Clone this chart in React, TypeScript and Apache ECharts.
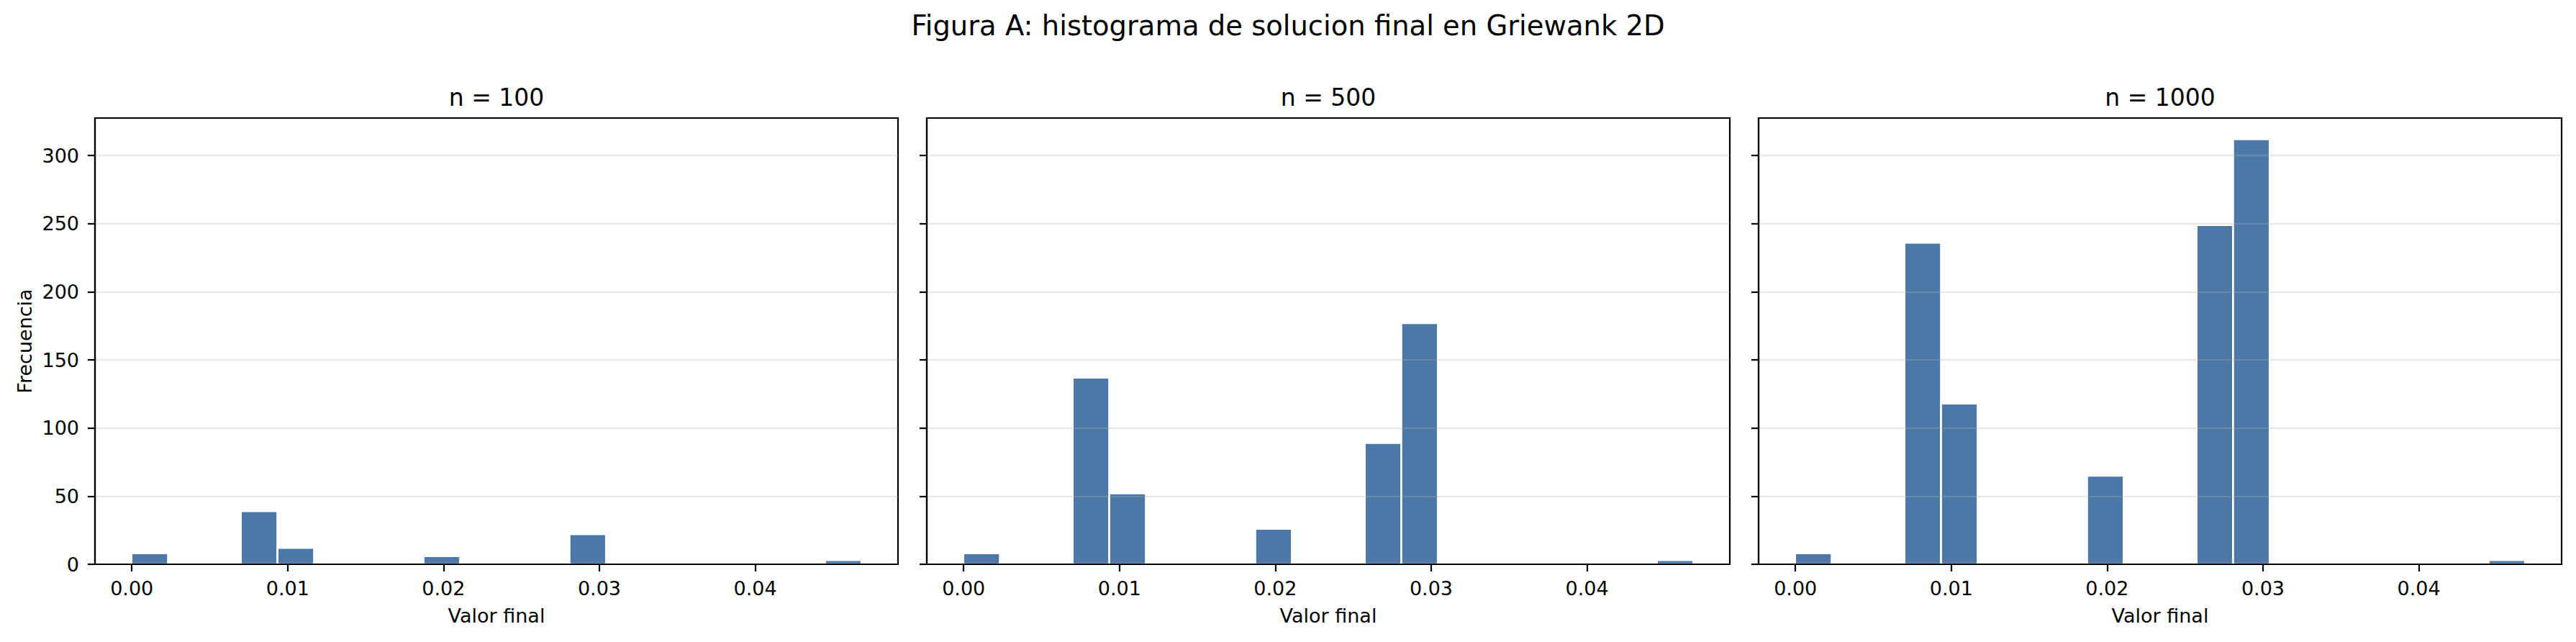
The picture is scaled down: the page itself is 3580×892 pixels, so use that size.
import React, { useEffect, useRef } from "react";
import * as echarts from "echarts";

const MAIN_TITLE = "Figura A: histograma de solucion final en Griewank 2D";
const PANEL_TITLES = ["n = 100", "n = 500", "n = 1000"];
const X_LABEL = "Valor final";
const Y_LABEL = "Frecuencia";

// left edges of the non-empty histogram bins (20 bins over the data range)
const BIN_LEFT = [-0.00002, 0.006996, 0.009348, 0.018716, 0.025742, 0.028084, 0.044478];
const BIN_WIDTH = 0.002342;

const COUNTS_100 = [8, 39, 12, 6, 1, 22, 3];
const COUNTS_500 = [8, 137, 52, 26, 89, 177, 3];
const COUNTS_1000 = [8, 236, 118, 65, 249, 312, 3];

const X_TICKS = [0, 0.01, 0.02, 0.03, 0.04];
const Y_TICKS = [0, 50, 100, 150, 200, 250, 300];
const X_MIN = -0.002364;
const X_MAX = 0.04916;
const Y_MAX = 327.6;

const PANELS = [COUNTS_100, COUNTS_500, COUNTS_1000];

const BAR_COLOR = "#4c78a8";
const FONT = "DejaVu Sans";

export default function App() {
  const ref = useRef<HTMLDivElement>(null);
  useEffect(() => {
    document.body.style.margin = "0";
    if (!ref.current) return;
    const chart = echarts.init(ref.current, null, { renderer: "svg" });

    const gridLefts = [132, 1288, 2444];
    const gridW = 1116;
    const gridTop = 164;
    const gridH = 620;

    const option: any = {
      animation: false,
      backgroundColor: "#ffffff",
      textStyle: { fontFamily: FONT, color: "#000" },
      title: [
        {
          text: MAIN_TITLE,
          left: 1790,
          top: 16,
          padding: 0,
          textAlign: "center",
          textStyle: { fontFamily: FONT, fontSize: 38.5, fontWeight: "normal", color: "#000" },
        },
        ...PANEL_TITLES.map((t, i) => ({
          text: t,
          left: gridLefts[i] + gridW / 2,
          top: 119,
          padding: 0,
          textAlign: "center",
          textStyle: { fontFamily: FONT, fontSize: 33, fontWeight: "normal", color: "#000" },
        })),
      ],
      grid: gridLefts.map((l) => ({
        left: l,
        top: gridTop,
        width: gridW,
        height: gridH,
        show: true,
        borderColor: "#000",
        borderWidth: 2.2,
        backgroundColor: "transparent",
        containLabel: false,
        outerBoundsMode: "none",
      })),
      xAxis: PANELS.map((_, i) => ({
        gridIndex: i,
        type: "value",
        min: X_MIN,
        max: X_MAX,
        z: 6,
        axisLine: { show: true, onZero: false, lineStyle: { color: "#000", width: 2.2 } },
        axisTick: { show: true, length: 10, customValues: X_TICKS, lineStyle: { color: "#000", width: 2.2 } },
        axisLabel: {
          show: true,
          customValues: X_TICKS,
          formatter: (v: number) => v.toFixed(2),
          fontSize: 27,
          fontFamily: FONT,
          color: "#000",
          margin: 20,
        },
        splitLine: { show: false },
        name: X_LABEL,
        nameLocation: "middle",
        nameGap: 58,
        nameTextStyle: { fontSize: 27, fontFamily: FONT, color: "#000" },
      })),
      yAxis: PANELS.map((_, i) => ({
        gridIndex: i,
        type: "value",
        min: 0,
        max: Y_MAX,
        z: 5,
        axisLine: { show: true, onZero: false, lineStyle: { color: "#000", width: 2.2 } },
        axisTick: { show: true, length: 10, customValues: Y_TICKS, lineStyle: { color: "#000", width: 2.2 } },
        axisLabel: {
          show: i === 0,
          customValues: Y_TICKS,
          fontSize: 27,
          fontFamily: FONT,
          color: "#000",
          margin: 22,
        },
        splitLine: {
          show: true,
          customValues: Y_TICKS,
          lineStyle: { color: "#b0b0b0", opacity: 0.3, width: 2.2 },
        },
        name: i === 0 ? Y_LABEL : "",
        nameLocation: "middle",
        nameGap: 84,
        nameTextStyle: { fontSize: 27, fontFamily: FONT, color: "#000" },
      })),
      series: PANELS.map((counts, i) => ({
        type: "custom",
        xAxisIndex: i,
        yAxisIndex: i,
        z: 2,
        encode: { x: [0, 1], y: 2 },
        data: counts.map((c, k) => [BIN_LEFT[k], BIN_LEFT[k] + BIN_WIDTH, c]),
        renderItem: (params: any, api: any) => {
          const p0 = api.coord([api.value(0), 0]);
          const p1 = api.coord([api.value(1), api.value(2)]);
          return {
            type: "rect",
            shape: { x: p0[0], y: p1[1], width: p1[0] - p0[0], height: p0[1] - p1[1] },
            style: { fill: BAR_COLOR, stroke: "#ffffff", lineWidth: 2.5 },
          };
        },
      })),
    };

    chart.setOption(option);
    return () => chart.dispose();
  }, []);

  return <div ref={ref} style={{ width: 3580, height: 892 }} />;
}
